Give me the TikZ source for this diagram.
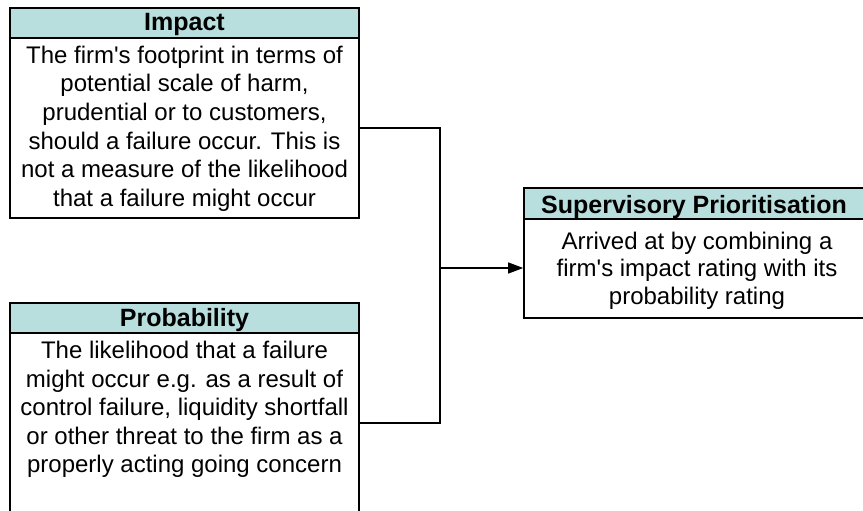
\documentclass[tikz,border=0pt]{standalone}
\usepackage{fontspec}
\setmainfont{Liberation Sans}
\usetikzlibrary{arrows.meta}
\definecolor{hdr}{RGB}{185,222,222}
\newcommand{\apos}{\textquotesingle}
\begin{document}
\begin{tikzpicture}[x=1pt,y=-1pt,
  box/.style={draw=black, line width=1.6pt, fill=white, rectangle, inner sep=0pt},
  hdrbox/.style={draw=black, line width=1.6pt, fill=hdr, rectangle, inner sep=0pt},
  body/.style={font=\fontsize{24}{28.6}\selectfont, align=center, inner sep=0pt},
  title/.style={font=\fontsize{25}{28}\selectfont\bfseries, inner sep=0pt},
  conn/.style={line width=1.3pt, draw=black}]
\useasboundingbox (0,0) rectangle (863,511);
\fill[white] (0,0) rectangle (863,511);
\clip (0,0) rectangle (863,511);

% Impact
\node[box, minimum width=349pt, minimum height=210pt] (imp) at (184.5,113) {};
\node[hdrbox, minimum width=349pt, minimum height=30pt] (imph) at (184.5,23) {};
\node[title] (impt) at (184.5,24) {Impact};
\node[body] (impb) at (184.5,128.5) {The firm\apos s footprint in terms of\\potential scale of harm,\\prudential or to customers,\\should a failure occur. This is\\not a measure of the likelihood\\that a failure might occur};

% Probability
\node[box, minimum width=349pt, minimum height=237pt] (prob) at (184.5,421.5) {};
\node[hdrbox, minimum width=349pt, minimum height=30pt] (probh) at (184.5,318) {};
\node[title] (probt) at (184.5,320) {Probability};
\node[body] (probb) at (184.5,409.5) {The likelihood that a failure\\might occur e.g. as a result of\\control failure, liquidity shortfall\\or other threat to the firm as a\\properly acting going concern};

% Supervisory Prioritisation
\node[box, minimum width=342pt, minimum height=130pt] (sup) at (695,253) {};
\node[hdrbox, minimum width=342pt, minimum height=31pt] (suph) at (695,203.5) {};
\node[title] (supt) at (694,207) {Supervisory Prioritisation};
\node[body, font=\fontsize{24}{27.5}\selectfont] (supb) at (697,270.5) {Arrived at by combining a\\firm\apos s impact rating with its\\probability rating};

% Connectors
\coordinate (jn) at (440,268);
\draw[conn] ([yshift=-15pt]imp.east) -| (jn);
\draw[conn] ([yshift=-1.5pt]prob.east) -| (jn);
\draw[conn, -{Triangle[length=15pt,width=11pt]}] (jn) -- (sup.west |- jn);
\end{tikzpicture}
\end{document}
